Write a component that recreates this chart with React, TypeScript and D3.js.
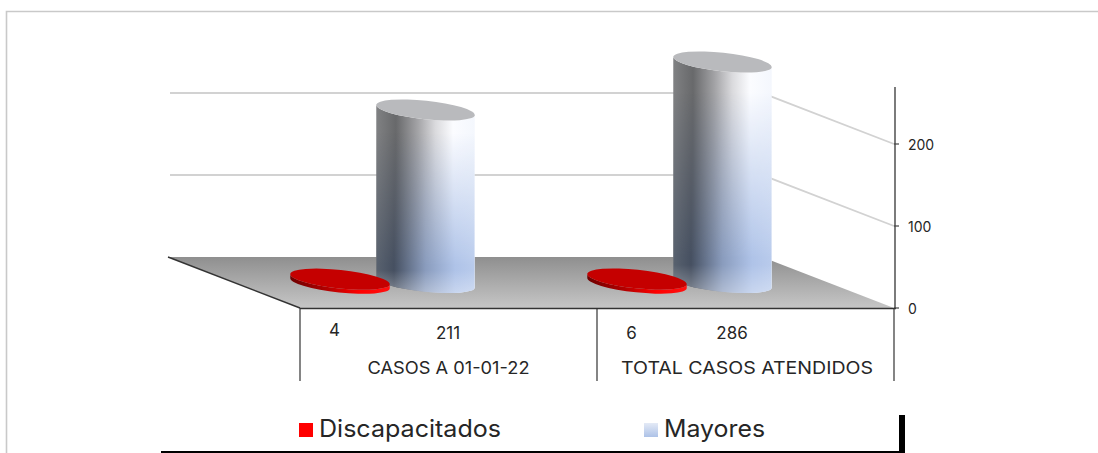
import React from "react";
import * as d3 from "d3";

const categories = ["CASOS A 01-01-22", "TOTAL CASOS ATENDIDOS"];
const discapacitados = [4, 6];
const mayores = [211, 286];
const axisTicks = [0, 100, 200];
const legendLabels = ["Discapacitados", "Mayores"];

const FONT = "Inter, 'DejaVu Sans', sans-serif";
const TEXT = "#262626";

const x0 = d3.scaleBand<string>().domain(categories).range([300, 894]);
const axisY = d3.scaleLinear().domain([0, 200]).range([308, 144]);
// the drawing's 3D perspective compresses the tallest bar
const barY = d3.scaleLinear().domain([0, 211, 286]).range([282.5, 110, 62]);
const DEPTH = { x: -132, y: -51 };
const ANGLE = 6;
const RY = 9.3;
const rad = (ANGLE * Math.PI) / 180;

function cylinderPath(cx: number, yTop: number, yBase: number, rx: number, ry: number) {
  const dx = rx * Math.cos(rad);
  const dy = rx * Math.sin(rad);
  return `M${cx - dx},${yTop - dy} L${cx - dx},${yBase - dy} A${rx},${ry} ${ANGLE} 0 0 ${cx + dx},${yBase + dy} L${cx + dx},${yTop + dy} A${rx},${ry} ${ANGLE} 0 1 ${cx - dx},${yTop - dy} Z`;
}

export default function App() {
  const bw = x0.bandwidth();
  return (
    <svg width={1098} height={453} style={{ position: "absolute", left: 0, top: 0, background: "#fff" }}>
      <defs>
        <linearGradient id="floor" x1="0" y1="0" x2="0" y2="1">
          <stop offset="0" stopColor="#8f8f8f" />
          <stop offset="1" stopColor="#c6c6c6" />
        </linearGradient>
        <linearGradient id="bodyTop" x1="0" y1="0" x2="1" y2="0">
          <stop offset="0" stopColor="#808183" />
          <stop offset="0.2" stopColor="#68696b" />
          <stop offset="0.42" stopColor="#a3a3a6" />
          <stop offset="0.6" stopColor="#dadadd" />
          <stop offset="0.78" stopColor="#fbfcff" />
          <stop offset="1" stopColor="#f4f7fd" />
        </linearGradient>
        <linearGradient id="bodyBottom" x1="0" y1="0" x2="1" y2="0">
          <stop offset="0" stopColor="#59626f" />
          <stop offset="0.18" stopColor="#465061" />
          <stop offset="0.5" stopColor="#8a9cbd" />
          <stop offset="0.8" stopColor="#afc3e8" />
          <stop offset="1" stopColor="#b9cbec" />
        </linearGradient>
        <linearGradient id="fade" x1="0" y1="0" x2="0" y2="1">
          <stop offset="0" stopColor="#000" />
          <stop offset="0.15" stopColor="#000" />
          <stop offset="0.85" stopColor="#fff" />
          <stop offset="1" stopColor="#fff" />
        </linearGradient>
        <mask id="fadeMask" maskContentUnits="objectBoundingBox" x="0" y="0" width="1" height="1">
          <rect x="0" y="0" width="1" height="1" fill="url(#fade)" />
        </mask>
        <linearGradient id="bodyGlow" x1="0" y1="0" x2="0" y2="1">
          <stop offset="0.88" stopColor="#fff" stopOpacity="0" />
          <stop offset="1" stopColor="#fff" stopOpacity="0.32" />
        </linearGradient>
        <linearGradient id="discSide" x1="0" y1="0" x2="1" y2="0">
          <stop offset="0" stopColor="#6e0000" />
          <stop offset="0.4" stopColor="#b80000" />
          <stop offset="0.7" stopColor="#ff0000" />
          <stop offset="1" stopColor="#ff1010" />
        </linearGradient>
        <linearGradient id="swatch" x1="0" y1="0" x2="0" y2="1">
          <stop offset="0" stopColor="#e4eaf6" />
          <stop offset="1" stopColor="#adc2e7" />
        </linearGradient>
      </defs>

      {/* outer frame */}
      <path d="M6.5,453 L6.5,11.5 L1098,11.5" fill="none" stroke="#c9c9c9" strokeWidth={1.6} />

      {/* gridlines */}
      {axisTicks.filter((t) => t > 0).map((t) => {
        const y = axisY(t);
        return (
          <polyline
            key={t}
            points={`${170},${y + DEPTH.y} ${894 + DEPTH.x},${y + DEPTH.y} ${894},${y}`}
            fill="none"
            stroke="#d2d2d2"
            strokeWidth={1.8}
          />
        );
      })}

      {/* floor */}
      <polygon
        points={`${300 + DEPTH.x},${308 + DEPTH.y} ${894 + DEPTH.x},${308 + DEPTH.y} 894,308 300,308`}
        fill="url(#floor)"
      />
      <line x1={300 + DEPTH.x} y1={308 + DEPTH.y} x2={300} y2={308} stroke="#333" strokeWidth={1.5} />
      <line x1={300} y1={308.5} x2={896} y2={308.5} stroke="#333" strokeWidth={1.5} />

      {/* value axis */}
      <line x1={895} y1={87} x2={895} y2={308} stroke="#444" strokeWidth={1.4} />
      {axisTicks.map((t) => (
        <g key={t}>
          <line x1={894} x2={899} y1={axisY(t)} y2={axisY(t)} stroke="#444" strokeWidth={1.2} />
          <text x={908} y={axisY(t) + 6} fontFamily={FONT} fontSize={14} fill={TEXT}>{t}</text>
        </g>
      ))}

      {/* marks */}
      {categories.map((c, i) => {
        const bx = x0(c)!;
        const cxRed = bx + 40;
        const cxBar = bx + 125.5;
        const yTop = barY(mayores[i]);
        const yBase = barY(0);
        const yDisc = barY(discapacitados[i]) + (i === 1 ? 1.5 : 0);
        const body = cylinderPath(cxBar, yTop, yBase, 49.5, RY);
        return (
          <g key={c}>
            <path d={body} fill="url(#bodyTop)" />
            <path d={body} fill="url(#bodyBottom)" mask="url(#fadeMask)" />
            <path d={body} fill="url(#bodyGlow)" />
            <ellipse cx={cxBar} cy={yTop} rx={49.5} ry={RY} transform={`rotate(${ANGLE} ${cxBar} ${yTop})`} fill="#b9babd" />
            <path d={cylinderPath(cxRed, yDisc, yDisc + 4, 50, RY)} fill="url(#discSide)" />
            <ellipse cx={cxRed} cy={yDisc} rx={50} ry={RY} transform={`rotate(${ANGLE} ${cxRed} ${yDisc})`} fill="#c50000" />
          </g>
        );
      })}

      {/* data table */}
      {[300, 597, 894].map((x) => (
        <line key={x} x1={x} x2={x} y1={308} y2={381} stroke="#333" strokeWidth={1.2} />
      ))}
      {categories.map((c, i) => {
        const bx = x0(c)!;
        return (
          <g key={c} fontFamily={FONT} fill={TEXT}>
            <text x={bx + 34.5} y={i === 0 ? 336 : 339} textAnchor="middle" fontSize={17}>{discapacitados[i]}</text>
            <text x={bx + (i === 0 ? 148 : 135)} y={339} textAnchor="middle" fontSize={17}>{mayores[i]}</text>
            <text
              x={bx + bw / 2 + (i === 1 ? 1.5 : 0)}
              y={374}
              textAnchor="middle"
              fontSize={17}
              textLength={i === 0 ? 162 : 252}
              lengthAdjust="spacingAndGlyphs"
            >{c}</text>
          </g>
        );
      })}

      {/* legend */}
      <rect x={299} y={423} width={14} height={14} fill="#ff0000" />
      <text x={319} y={437} fontFamily={FONT} fontSize={24} fill={TEXT} textLength={182} lengthAdjust="spacingAndGlyphs">{legendLabels[0]}</text>
      <rect x={644} y={423} width={14} height={14} fill="url(#swatch)" />
      <text x={664} y={437} fontFamily={FONT} fontSize={24} fill={TEXT} textLength={101} lengthAdjust="spacingAndGlyphs">{legendLabels[1]}</text>
      <rect x={161} y={451} width={744} height={2.5} fill="#000" />
      <rect x={899} y={415} width={6} height={38} fill="#000" />
    </svg>
  );
}
